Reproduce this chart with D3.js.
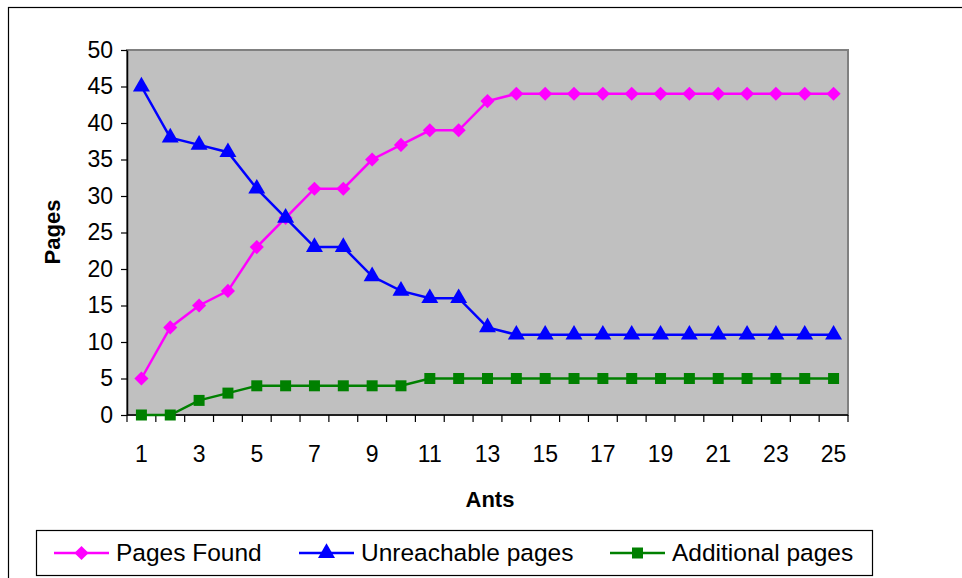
<!DOCTYPE html>
<html>
<head>
<meta charset="utf-8">
<script src="https://cdn.jsdelivr.net/npm/d3@7/dist/d3.min.js"></script>
<style>
  html, body { margin: 0; padding: 0; background: #fff; }
  svg { display: block; font-family: Arial, "Liberation Sans", sans-serif; }
</style>
</head>
<body>
<svg id="chart" width="962" height="578"></svg>
<script>
// Number of ants on the x axis
const ants = d3.range(1, 26);
const xTickLabels = [1, 3, 5, 7, 9, 11, 13, 15, 17, 19, 21, 23, 25];
const yTicks = [0, 5, 10, 15, 20, 25, 30, 35, 40, 45, 50];

const pagesFound = [5, 12, 15, 17, 23, 27, 31, 31, 35, 37, 39, 39, 43, 44, 44, 44, 44, 44, 44, 44, 44, 44, 44, 44, 44];
const unreachablePages = [45, 38, 37, 36, 31, 27, 23, 23, 19, 17, 16, 16, 12, 11, 11, 11, 11, 11, 11, 11, 11, 11, 11, 11, 11];
const additionalPages = [0, 0, 2, 3, 4, 4, 4, 4, 4, 4, 5, 5, 5, 5, 5, 5, 5, 5, 5, 5, 5, 5, 5, 5, 5];

const seriesNames = ["Pages Found", "Unreachable pages", "Additional pages"];
const seriesColors = ["#FF00FF", "#0000FF", "#008000"];
const seriesValues = [pagesFound, unreachablePages, additionalPages];

// Marker shapes: square diamond, triangle, square
const markerSymbols = [
  { type: d3.symbolSquare, size: 100, rotate: 45 },
  { type: d3.symbolTriangle, size: 125, rotate: 0 },
  { type: d3.symbolSquare, size: 121, rotate: 0 }
];

const svg = d3.select("#chart");
const plot = { left: 127, right: 848, top: 50, bottom: 415 };

// Outer chart frame (runs past the right and bottom edges)
svg.append("rect")
  .attr("x", 8.5).attr("y", 7.5)
  .attr("width", 1000).attr("height", 600)
  .attr("fill", "#fff").attr("stroke", "#000").attr("stroke-width", 1.2);

const x = d3.scaleBand().domain(ants).range([plot.left, plot.right]).paddingInner(0).paddingOuter(0);
const y = d3.scaleLinear().domain([0, 50]).range([plot.bottom, plot.top]);

// Plot area
svg.append("rect")
  .attr("x", plot.left).attr("y", plot.top)
  .attr("width", plot.right - plot.left).attr("height", plot.bottom - plot.top)
  .attr("fill", "#C0C0C0").attr("stroke", "#808080").attr("stroke-width", 2);

// Y axis
const yAxis = d3.axisLeft(y).tickValues(yTicks).tickSize(6).tickPadding(8).tickSizeOuter(0);
const gy = svg.append("g").attr("transform", `translate(${plot.left},0)`).call(yAxis);
gy.select(".domain").attr("stroke", "#000").attr("stroke-width", 1.5);
gy.selectAll(".tick line").attr("stroke", "#000").attr("stroke-width", 1.2);
gy.selectAll(".tick text")
  .attr("font-size", 23).attr("fill", "#000")
  .attr("font-family", "Arial, 'Liberation Sans', sans-serif");

// X axis: ticks on category boundaries, labels on odd categories
const boundaries = d3.range(0, ants.length + 1).map(i => plot.left + i * x.step());
const gx = svg.append("g");
gx.append("line")
  .attr("x1", plot.left).attr("x2", plot.right)
  .attr("y1", plot.bottom).attr("y2", plot.bottom)
  .attr("stroke", "#000").attr("stroke-width", 1.5);
gx.selectAll("line.tick").data(boundaries).join("line")
  .attr("class", "tick")
  .attr("x1", d => d).attr("x2", d => d)
  .attr("y1", plot.bottom).attr("y2", plot.bottom + 7)
  .attr("stroke", "#000").attr("stroke-width", 1.2);
gx.selectAll("text").data(xTickLabels).join("text")
  .attr("x", d => x(d) + x.bandwidth() / 2)
  .attr("y", 462)
  .attr("text-anchor", "middle")
  .attr("font-size", 23)
  .text(d => d);

// Axis titles
svg.append("text")
  .attr("x", 490).attr("y", 507)
  .attr("text-anchor", "middle")
  .attr("font-size", 22).attr("font-weight", "bold")
  .text("Ants");
svg.append("text")
  .attr("transform", "translate(60,232) rotate(-90)")
  .attr("text-anchor", "middle")
  .attr("font-size", 22).attr("font-weight", "bold")
  .text("Pages");

// Series lines and markers
const line = d3.line()
  .x((d, i) => x(ants[i]) + x.bandwidth() / 2)
  .y(d => y(d));

function marker(sel, s, cx, cy) {
  const m = markerSymbols[s];
  sel.attr("transform", `translate(${cx},${cy}) rotate(${m.rotate})`)
    .attr("d", d3.symbol().type(m.type).size(m.size)())
    .attr("fill", seriesColors[s]);
}

seriesValues.forEach((vals, s) => {
  const g = svg.append("g");
  g.append("path")
    .datum(vals)
    .attr("d", line)
    .attr("fill", "none")
    .attr("stroke", seriesColors[s])
    .attr("stroke-width", 2.5);
  vals.forEach((v, i) => {
    marker(g.append("path"), s, x(ants[i]) + x.bandwidth() / 2, y(v));
  });
});

// Legend
const legend = svg.append("g");
legend.append("rect")
  .attr("x", 36.5).attr("y", 530.5)
  .attr("width", 836).attr("height", 45)
  .attr("fill", "#fff").attr("stroke", "#000").attr("stroke-width", 1.2);

const legendX = [54, 299, 610];
seriesNames.forEach((name, s) => {
  const lx = legendX[s];
  legend.append("line")
    .attr("x1", lx).attr("x2", lx + 55)
    .attr("y1", 553).attr("y2", 553)
    .attr("stroke", seriesColors[s]).attr("stroke-width", 2.5);
  marker(legend.append("path"), s, lx + 27.5, 553);
  legend.append("text")
    .attr("x", lx + 62).attr("y", 561)
    .attr("font-size", 24.5)
    .text(name);
});
</script>
</body>
</html>
